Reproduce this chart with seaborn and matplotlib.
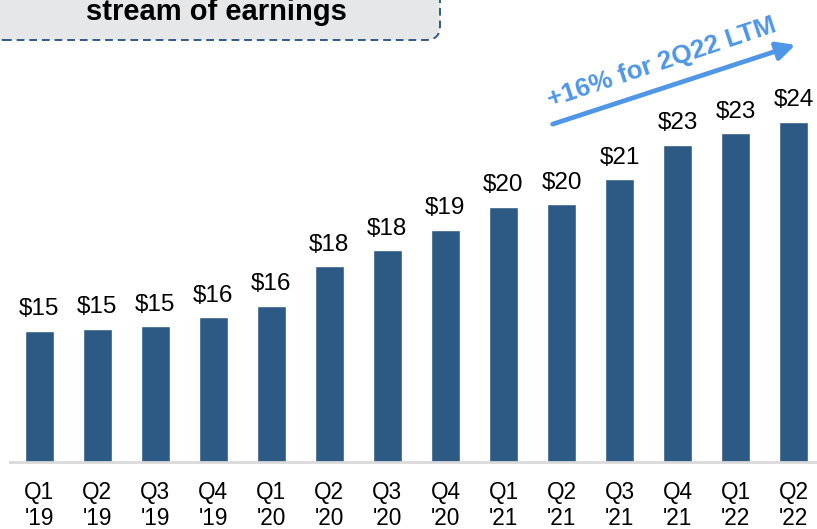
import pandas as pd
import seaborn as sns
import matplotlib.pyplot as plt
from matplotlib.patches import FancyBboxPatch, FancyArrowPatch
from matplotlib.transforms import IdentityTransform

quarters = ["Q1\n'19", "Q2\n'19", "Q3\n'19", "Q4\n'19",
            "Q1\n'20", "Q2\n'20", "Q3\n'20", "Q4\n'20",
            "Q1\n'21", "Q2\n'21", "Q3\n'21", "Q4\n'21",
            "Q1\n'22", "Q2\n'22"]
values = [15.0, 15.1, 15.2, 15.6, 16.1, 17.8, 18.5, 19.4,
          20.4, 20.5, 21.6, 23.1, 23.6, 24.1]
value_labels = ['$15', '$15', '$15', '$16', '$16', '$18', '$18', '$19',
                '$20', '$20', '$21', '$23', '$23', '$24']

BAR = '#2d5985'
ARROW = '#4f96e6'

sns.set_style('white')
plt.rcParams['font.family'] = ['Liberation Sans', 'DejaVu Sans']

df = pd.DataFrame({'quarter': quarters, 'value': values})

fig = plt.figure(figsize=(8.17, 5.29), dpi=100)
ax = fig.add_axes([10 / 817, 67 / 529, 807 / 817, 462 / 529])

sns.barplot(data=df, x='quarter', y='value', color=BAR, width=0.5,
            saturation=1, ax=ax)

ax.set_ylim(9.3, 9.3 + 462 / 23)
ax.set_xlim(-0.5, 13.4)
ax.bar_label(ax.containers[0], labels=value_labels, padding=7.5,
             fontsize=17.5, color='black')

ax.set_xlabel('')
ax.set_ylabel('')
ax.set_yticks([])
ax.tick_params(axis='x', length=0, pad=14, labelsize=16.3, labelcolor='black')
for lbl in ax.get_xticklabels():
    lbl.set_linespacing(1.15)
for side in ['left', 'right', 'top']:
    ax.spines[side].set_visible(False)
ax.spines['bottom'].set_color('#d9d9d9')
ax.spines['bottom'].set_linewidth(2)

# callout box cut off at the top
px = IdentityTransform()
box = FancyBboxPatch((-10, 529 - 40), 450, 80,
                     boxstyle='round,pad=0,rounding_size=14',
                     facecolor='#e6e7e8', edgecolor='#2f5b8a',
                     linewidth=1.4, linestyle=(0, (4, 2.5)),
                     transform=px)
fig.patches.append(box)
fig.text(216 / 817, 1 - 19.5 / 529, 'stream of earnings', ha='center',
         va='baseline', fontsize=21, fontweight='bold', color='black')

# growth arrow
arrow = FancyArrowPatch((550, 529 - 125), (798, 529 - 44),
                        arrowstyle='-|>,head_length=11,head_width=5.5',
                        mutation_scale=1, linewidth=3.4, color=ARROW,
                        transform=px)
fig.patches.append(arrow)
fig.text(662 / 817, 1 - 63 / 529, '+16% for 2Q22 LTM', ha='center',
         va='center', rotation=18.5, rotation_mode='anchor',
         fontsize=18.8, fontweight='bold', color=ARROW)

fig.savefig('out.png', dpi=100)
